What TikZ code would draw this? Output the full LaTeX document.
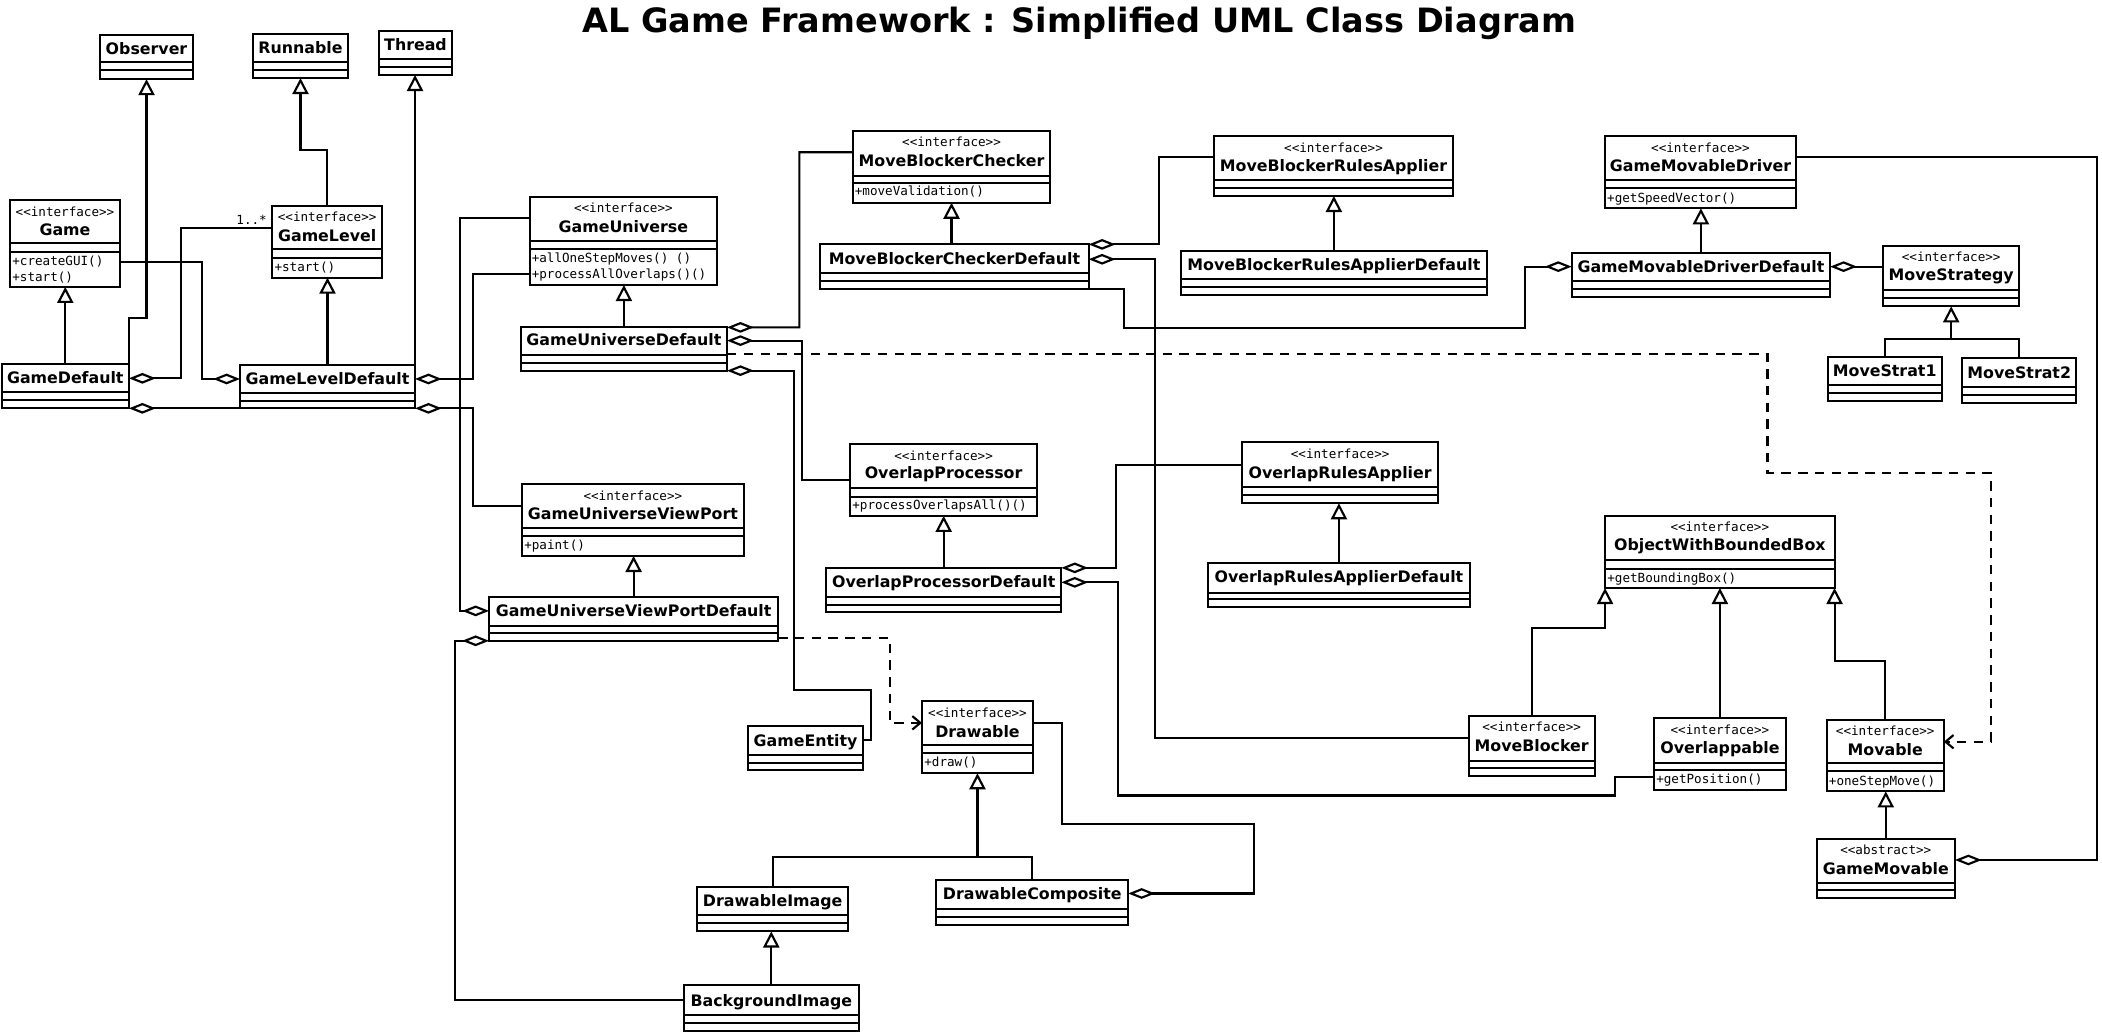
\documentclass[tikz,border=0pt]{standalone}
\usepackage{fontspec}
\setmainfont{DejaVu Sans}
\newfontfamily\umlmono{DejaVu Sans Mono}
\usetikzlibrary{arrows.meta,fit}

\tikzset{
  clsbox/.style={draw, line width=1.5pt, inner sep=0pt, outer sep=0pt},
  sepline/.style={line width=1.5pt},
  namestyle/.style={font=\bfseries\fontsize{11.8}{12}\selectfont, inner sep=0pt, anchor=base},
  monostyle/.style={font=\umlmono\fontsize{9.4}{10}\selectfont, inner sep=0pt, anchor=base},
  methstyle/.style={monostyle, anchor=base west},
  conn/.style={line width=1.6pt},
  gen/.style={conn, -{Triangle[open, length=12pt, width=12pt]}},
  agg/.style={conn, {Diamond[open, length=20pt, width=8pt]}-},
  dep/.style={conn, dash pattern=on 7pt off 5.5pt, -{Straight Barb[length=6pt, width=10pt]}},
}

\newcommand{\umlcls}[7]{%
  \node[clsbox, fit={(#2,#3) (#4,#5)}] (#1) {};
  \draw[sepline] (#2,#6) -- (#4,#6) (#2,#7) -- (#4,#7);}
\newcommand{\umlname}[3]{\node[namestyle] (#1-n) at (#1.center |- 0,#2) {#3};}
\newcommand{\umlster}[3]{\node[monostyle] (#1-s) at (#1.center |- 0,#2) {#3};}
\newcommand{\umlmeth}[4]{\node[methstyle, xshift=1.5pt] (#1-m#4) at (#1.west |- 0,#2) {#3};}

\begin{document}
\begin{tikzpicture}[x=1pt, y=-1pt]
\useasboundingbox (0,0) rectangle (1568,770);
\fill[white] (0,0) rectangle (1568,770);

\node[font=\bfseries\fontsize{25}{25}\selectfont, anchor=base, inner sep=0pt] (title) at (805,24) {AL Game Framework : Simplified UML Class Diagram};

% ---------- classes ----------
\umlcls{obs}{74.6}{26}{144}{59}{46.2}{52.2}
\umlcls{run}{188.7}{25.1}{259.6}{58.2}{46.3}{52.5}
\umlcls{thr}{282.7}{23.1}{337.2}{55.9}{44.3}{49.7}
\umlcls{game}{7.5}{149}{89.5}{214}{181.3}{188}
\umlcls{glev}{203.1}{153.7}{285}{207.1}{186}{192.2}
\umlcls{gdef}{1.2}{271.5}{96.2}{304.6}{292.2}{298.4}
\umlcls{gldef}{179}{272.3}{309.6}{304.6}{292.9}{299.1}
\umlcls{guni}{395}{147}{535}{212.6}{179.5}{185.8}
\umlcls{gudef}{388.5}{244.2}{542.3}{276.5}{264.8}{270.5}
\umlcls{mbc}{636}{97.7}{783.6}{151.2}{131.3}{136.8}
\umlcls{mbcd}{611.9}{182.3}{812.1}{215.3}{203.4}{209.4}
\umlcls{mbra}{905.8}{101.2}{1083.7}{146.2}{134.3}{140}
\umlcls{mbrad}{880.9}{187}{1109.1}{220}{208.1}{213.8}
\umlcls{gmd}{1197.2}{101.2}{1339.8}{155.4}{134.3}{140}
\umlcls{gmdd}{1172.4}{188.5}{1365.2}{221.5}{209.6}{215.6}
\umlcls{mstr}{1404.7}{183.2}{1506.3}{228.5}{216.3}{222.3}
\umlcls{ms1}{1363.3}{266}{1448.5}{298.9}{287.2}{292.9}
\umlcls{ms2}{1463.9}{267.3}{1548.6}{300.6}{288.4}{294.4}
\umlcls{guvp}{389.4}{361}{554.8}{414.7}{394}{400}
\umlcls{guvpd}{364.8}{445.2}{580.5}{478}{466.8}{472.2}
\umlcls{op}{634.1}{331.2}{773.6}{384.8}{364}{370.7}
\umlcls{opd}{616.2}{423.6}{791.7}{456.4}{445}{451}
\umlcls{ora}{926.8}{330}{1072.6}{375.4}{363.1}{369.4}
\umlcls{orad}{900.9}{420}{1096.7}{452.8}{442}{447.1}
\umlcls{owbb}{1197.3}{384.8}{1368.5}{438.6}{417.9}{424.2}
\umlcls{gent}{558}{541.4}{643.8}{574.2}{563}{569}
\umlcls{drw}{687.8}{522.6}{770.5}{576.8}{555.7}{562}
\umlcls{dimg}{520}{661.6}{632.8}{694.8}{682.5}{688.5}
\umlcls{dcomp}{698.4}{656.6}{841.6}{689.7}{678.3}{683.7}
\umlcls{bimg}{510.3}{735}{640.4}{769.2}{757}{763}
\umlcls{mblk}{1095.6}{534.4}{1189.5}{578.9}{567.8}{572.9}
\umlcls{ovl}{1233.8}{535.6}{1332.1}{589.4}{569.3}{574.7}
\umlcls{mov}{1362.6}{536.8}{1450}{590.3}{569.3}{575.3}
\umlcls{gmov}{1355.1}{625.6}{1458.3}{670.1}{658.4}{664.1}

% ---------- texts ----------
\umlname{obs}{40.5}{Observer}
\umlname{run}{39.6}{Runnable}
\umlname{thr}{38}{Thread}
\umlster{game}{161.2}{<{}<interface>{}>}
\umlname{game}{175.5}{Game}
\umlmeth{game}{198.4}{+createGUI()}{1}
\umlmeth{game}{210.1}{+start()}{2}
\umlster{glev}{165.3}{<{}<interface>{}>}
\umlname{glev}{180}{GameLevel}
\umlmeth{glev}{202.6}{+start()}{1}
\umlname{gdef}{286.2}{GameDefault}
\umlname{gldef}{286.7}{GameLevelDefault}
\umlster{guni}{158.6}{<{}<interface>{}>}
\umlname{guni}{173.1}{GameUniverse}
\umlmeth{guni}{195.9}{+allOneStepMoves() ()}{1}
\umlmeth{guni}{207.6}{+processAllOverlaps()()}{2}
\umlname{gudef}{258.1}{GameUniverseDefault}
\umlster{mbc}{109.6}{<{}<interface>{}>}
\umlname{mbc}{123.9}{MoveBlockerChecker}
\umlmeth{mbc}{146.2}{+moveValidation()}{1}
\umlname{mbcd}{197.2}{MoveBlockerCheckerDefault}
\umlster{mbra}{113.8}{<{}<interface>{}>}
\umlname{mbra}{128.1}{MoveBlockerRulesApplier}
\umlname{mbrad}{201.7}{MoveBlockerRulesApplierDefault}
\umlster{gmd}{113.8}{<{}<interface>{}>}
\umlname{gmd}{128.1}{GameMovableDriver}
\umlmeth{gmd}{150.7}{+getSpeedVector()}{1}
\umlname{gmdd}{203.4}{GameMovableDriverDefault}
\umlster{mstr}{195.4}{<{}<interface>{}>}
\umlname{mstr}{209.5}{MoveStrategy}
\umlname{ms1}{281}{MoveStrat1}
\umlname{ms2}{282.5}{MoveStrat2}
\umlster{guvp}{373.2}{<{}<interface>{}>}
\umlname{guvp}{387.7}{GameUniverseViewPort}
\umlmeth{guvp}{409.7}{+paint()}{1}
\umlname{guvpd}{460.2}{GameUniverseViewPortDefault}
\umlster{op}{343.2}{<{}<interface>{}>}
\umlname{op}{357.3}{OverlapProcessor}
\umlmeth{op}{380.4}{+processOverlapsAll()()}{1}
\umlname{opd}{438.2}{OverlapProcessorDefault}
\umlster{ora}{342.2}{<{}<interface>{}>}
\umlname{ora}{357}{OverlapRulesApplier}
\umlname{orad}{434.5}{OverlapRulesApplierDefault}
\umlster{owbb}{396.7}{<{}<interface>{}>}
\umlname{owbb}{411}{ObjectWithBoundedBox}
\umlmeth{owbb}{434.4}{+getBoundingBox()}{1}
\umlname{gent}{557}{GameEntity}
\umlster{drw}{534.9}{<{}<interface>{}>}
\umlname{drw}{549.8}{Drawable}
\umlmeth{drw}{571.9}{+draw()}{1}
\umlname{dimg}{676.5}{DrawableImage}
\umlname{dcomp}{671}{DrawableComposite}
\umlname{bimg}{750.5}{BackgroundImage}
\umlster{mblk}{546}{<{}<interface>{}>}
\umlname{mblk}{560.8}{MoveBlocker}
\umlster{ovl}{547.7}{<{}<interface>{}>}
\umlname{ovl}{562}{Overlappable}
\umlmeth{ovl}{584.8}{+getPosition()}{1}
\umlster{mov}{548.4}{<{}<interface>{}>}
\umlname{mov}{563.2}{Movable}
\umlmeth{mov}{585.8}{+oneStepMove()}{1}
\umlster{gmov}{637.2}{<{}<abstract>{}>}
\umlname{gmov}{652}{GameMovable}

% ---------- connectors ----------
\draw[gen] (gdef.north east) -- (gdef.north east |- 0,237.2) -| (obs.south);
\draw[gen] (gdef.north) -- (gdef.north |- game.south);
\draw[agg] (gdef.east |- 0,282.2) -- (135,282.2) |- (glev.west |- 0,170);
\node[monostyle, anchor=base east] (mult) at (199.2,167.5) {1..*};
\draw[agg] (gldef.west |- 0,282.7) -- (150.7,282.7) |- (game.east |- 0,195.4);
\draw[gen] (gldef.north) -- (gldef.north |- glev.south);
\draw[gen] (glev.north) -- (glev.north |- 0,112) -| (run.south);
\draw[gen] (gldef.north east) -- (gldef.north east |- thr.south);
\draw[agg] (gldef.east |- 0,282.7) -| (353.1,204.6) -- (guni.west |- 0,204.6);
\draw[agg] (gldef.south east) -| (353.1,377.5) -- (guvp.west |- 0,377.5);
\draw[agg] (gdef.south east) -- (gldef.south west);
\draw[agg] (guvpd.west |- 0,455.7) -- (343.1,455.7) |- (guni.west |- 0,162.9);
\draw[gen] (gudef.north) -- (gudef.north |- guni.south);
\draw[agg] (gudef.north east) -- (596.3,244.2) |- (mbc.west |- 0,113.6);
\draw[agg] (gudef.east |- 0,254.1) -| (598.5,358) -- (op.west |- 0,358);
\draw[agg] (gudef.south east) -| (592,515) -| (650,552.1) -- (gent.east |- 0,552.1);
\draw[dep] (gudef.east |- 0,264.1) -| (1318.5,352.6) -| (1485,553.3) -- (mov.east |- 0,553.3);
\draw[dep] (guvpd.east |- 0,475.8) -| (663.7,539.2) -- (drw.west |- 0,539.2);
\draw[agg] (guvpd.south west) -- (339.4,478) |- (bimg.west |- 0,746);
\draw[gen] (guvpd.north) -- (guvpd.north |- guvp.south);
\draw[gen] (mbc.south |- mbcd.north) -- (mbc.south);
\draw[agg] (mbcd.north east) -- (864.5,182.3) |- (mbra.west |- 0,117.4);
\draw[agg] (mbcd.east |- 0,193.4) -| (861.5,550.6) -- (mblk.west |- 0,550.6);
\draw[agg] (gmdd.west |- 0,198.9) -- (1137.6,198.9) |- (838.5,244.4) |- (mbcd.south east);
\draw[gen] (mbrad.north) -- (mbrad.north |- mbra.south);
\draw[gen] (gmdd.north) -- (gmdd.north |- gmd.south);
\draw[agg] (gmdd.east |- 0,198.9) -- (mstr.west |- 0,198.9);
\coordinate (msj) at (1455.5,253.1);
\draw[conn] (ms1.north) |- (msj) -| (ms2.north);
\draw[gen] (msj) -- (mstr.south);
\draw[agg] (gmov.east |- 0,641.5) -- (1564,641.5) |- (gmd.east |- 0,117.4);
\draw[gen] (opd.north) -- (opd.north |- op.south);
\draw[agg] (opd.north east) -- (832.2,423.6) |- (ora.west |- 0,346.6);
\draw[agg] (opd.east |- 0,434.4) -| (834,593.4) -| (1204.4,579.8) -- (ovl.west |- 0,579.8);
\draw[gen] (orad.north) -- (orad.north |- ora.south);
\draw[gen] (mblk.north) |- (owbb.south west |- 0,468.5) -- (owbb.south west);
\draw[gen] (ovl.north) -- (ovl.north |- owbb.south);
\draw[gen] (mov.north) |- (owbb.south east |- 0,493) -- (owbb.south east);
\draw[gen] (gmov.north) -- (gmov.north |- mov.south);
\draw[agg] (dcomp.east |- 0,666.5) -- (935.4,666.5) |- (792.2,614.4) |- (drw.east |- 0,539.2);
\coordinate (dj) at (729.15,639);
\draw[conn] (dimg.north) |- (dj) -| (dcomp.north);
\draw[gen] (dj) -- (drw.south);
\draw[gen] (bimg.north) -- (bimg.north |- dimg.south);
\end{tikzpicture}
\end{document}
